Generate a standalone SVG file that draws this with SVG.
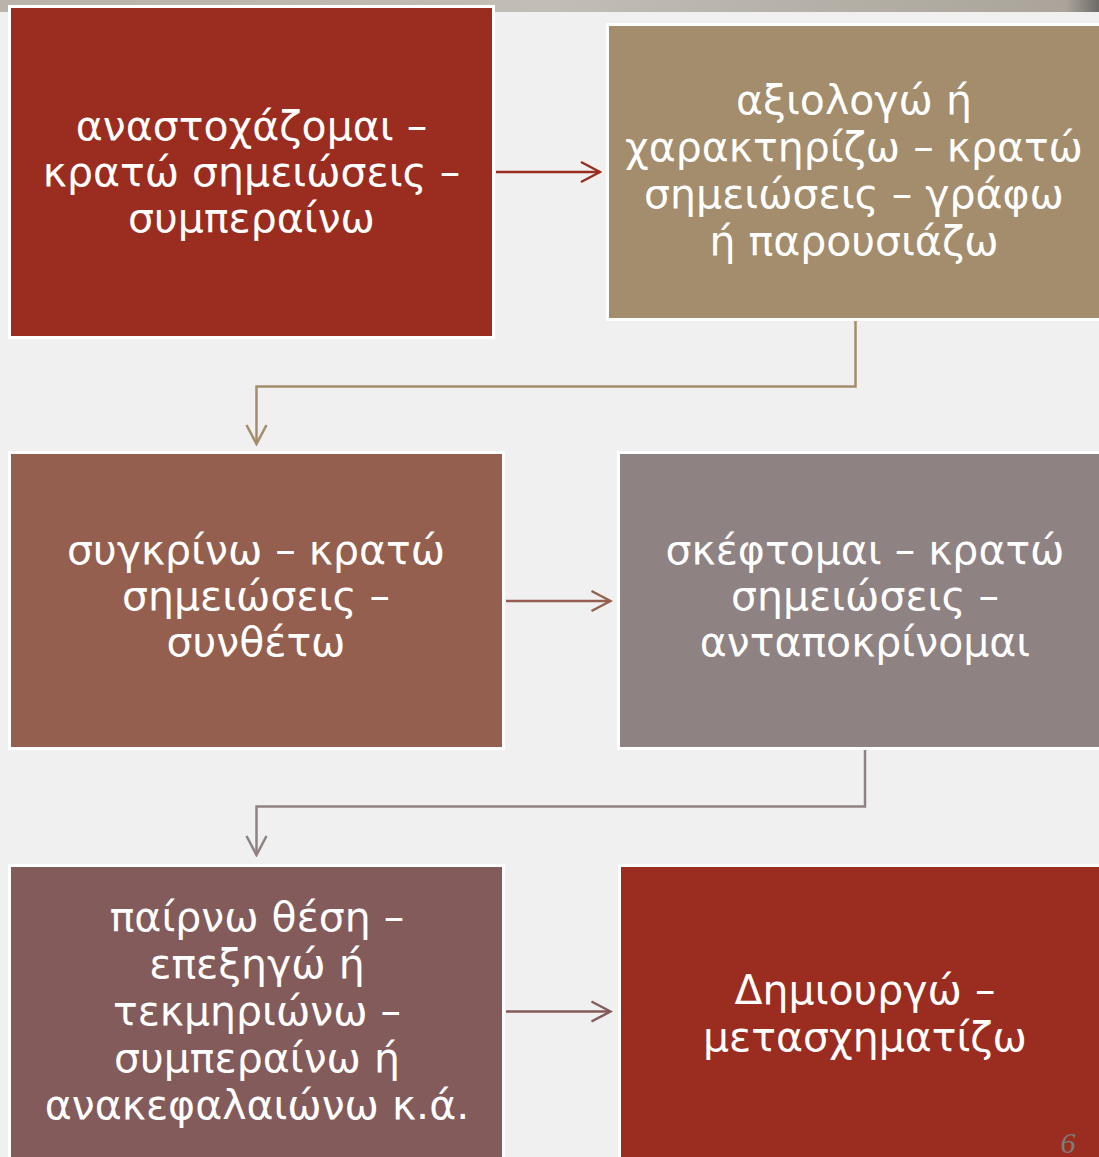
<svg xmlns="http://www.w3.org/2000/svg" width="1099" height="1157" viewBox="0 0 1099 1157">
<defs>
<style>
.box{stroke:#ffffff;stroke-width:3}
.lbl{font-family:"DejaVu Sans","Noto Sans",sans-serif;font-size:41px;fill:#ffffff;text-anchor:middle}
.con{fill:none;stroke-width:2.5}
</style>
<linearGradient id="topstrip" x1="0" y1="0" x2="1" y2="0">
<stop offset="0" stop-color="#b9b3aa"/>
<stop offset="0.5" stop-color="#c2bdb5"/>
<stop offset="0.97" stop-color="#aaa49b"/>
<stop offset="1" stop-color="#6e6a66"/>
</linearGradient>
<marker id="a1" viewBox="-22 -12 24 24" refX="0" refY="0" markerWidth="24" markerHeight="24" markerUnits="userSpaceOnUse" orient="auto"><path d="M-19,-10 L0,0 L-19,10" fill="none" stroke="#9B2D20" stroke-width="2.5"/></marker>
<marker id="a2" viewBox="-22 -12 24 24" refX="0" refY="0" markerWidth="24" markerHeight="24" markerUnits="userSpaceOnUse" orient="auto"><path d="M-19,-10 L0,0 L-19,10" fill="none" stroke="#A38D6C" stroke-width="2.5"/></marker>
<marker id="a3" viewBox="-22 -12 24 24" refX="0" refY="0" markerWidth="24" markerHeight="24" markerUnits="userSpaceOnUse" orient="auto"><path d="M-19,-10 L0,0 L-19,10" fill="none" stroke="#945F4F" stroke-width="2.5"/></marker>
<marker id="a4" viewBox="-22 -12 24 24" refX="0" refY="0" markerWidth="24" markerHeight="24" markerUnits="userSpaceOnUse" orient="auto"><path d="M-19,-10 L0,0 L-19,10" fill="none" stroke="#8E8282" stroke-width="2.5"/></marker>
<marker id="a5" viewBox="-22 -12 24 24" refX="0" refY="0" markerWidth="24" markerHeight="24" markerUnits="userSpaceOnUse" orient="auto"><path d="M-19,-10 L0,0 L-19,10" fill="none" stroke="#835B5B" stroke-width="2.5"/></marker>
</defs>
<rect x="0" y="0" width="1099" height="1157" fill="#f0f0f0"/>
<rect x="0" y="0" width="1099" height="12" fill="url(#topstrip)"/>
<g id="connectors">
<path class="con" stroke="#9B2D20" d="M496,172 H600" marker-end="url(#a1)"/>
<path class="con" stroke="#A38D6C" d="M855.5,321 V386.5 H256.5 V444" marker-end="url(#a2)"/>
<path class="con" stroke="#945F4F" d="M506,601 H610.5" marker-end="url(#a3)"/>
<path class="con" stroke="#8E8282" d="M865,750 V806.5 H256.5 V855" marker-end="url(#a4)"/>
<path class="con" stroke="#835B5B" d="M506,1011.5 H610.5" marker-end="url(#a5)"/>
</g>
<g id="node1">
<rect class="box" x="9.5" y="6.5" width="484" height="331" fill="#9B2D20"/>
<text class="lbl"><tspan x="251.5" y="140">αναστοχάζομαι –</tspan><tspan x="251.5" y="186">κρατώ σημειώσεις –</tspan><tspan x="251.5" y="232">συμπεραίνω</tspan></text>
</g>
<g id="node2">
<rect class="box" x="607.5" y="24.5" width="495" height="295" fill="#A38D6C"/>
<text class="lbl"><tspan x="854" y="114">αξιολογώ ή</tspan><tspan x="854" y="161">χαρακτηρίζω – κρατώ</tspan><tspan x="854" y="208">σημειώσεις – γράφω</tspan><tspan x="854" y="255">ή παρουσιάζω</tspan></text>
</g>
<g id="node3">
<rect class="box" x="9.5" y="452.5" width="494" height="296" fill="#945F4F"/>
<text class="lbl"><tspan x="256" y="564">συγκρίνω – κρατώ</tspan><tspan x="256" y="610">σημειώσεις –</tspan><tspan x="256" y="656">συνθέτω</tspan></text>
</g>
<g id="node4">
<rect class="box" x="618.5" y="452.5" width="500" height="296" fill="#8E8282"/>
<text class="lbl"><tspan x="865" y="564">σκέφτομαι – κρατώ</tspan><tspan x="865" y="610">σημειώσεις –</tspan><tspan x="865" y="656">ανταποκρίνομαι</tspan></text>
</g>
<g id="node5">
<rect class="box" x="9.5" y="865.5" width="494" height="400" fill="#835B5B"/>
<text class="lbl"><tspan x="257" y="931">παίρνω θέση –</tspan><tspan x="257" y="978">επεξηγώ ή</tspan><tspan x="257" y="1025">τεκμηριώνω –</tspan><tspan x="257" y="1072">συμπεραίνω ή</tspan><tspan x="257" y="1119">ανακεφαλαιώνω κ.ά.</tspan></text>
</g>
<g id="node6">
<rect class="box" x="619.5" y="865.5" width="500" height="400" fill="#9B2D20"/>
<text class="lbl"><tspan x="865" y="1004">Δημιουργώ –</tspan><tspan x="865" y="1051">μετασχηματίζω</tspan></text>
</g>
<text x="1068" y="1153" font-family="Liberation Serif, serif" font-style="italic" font-size="30" fill="#7d7d7d" text-anchor="middle">6</text>
</svg>
